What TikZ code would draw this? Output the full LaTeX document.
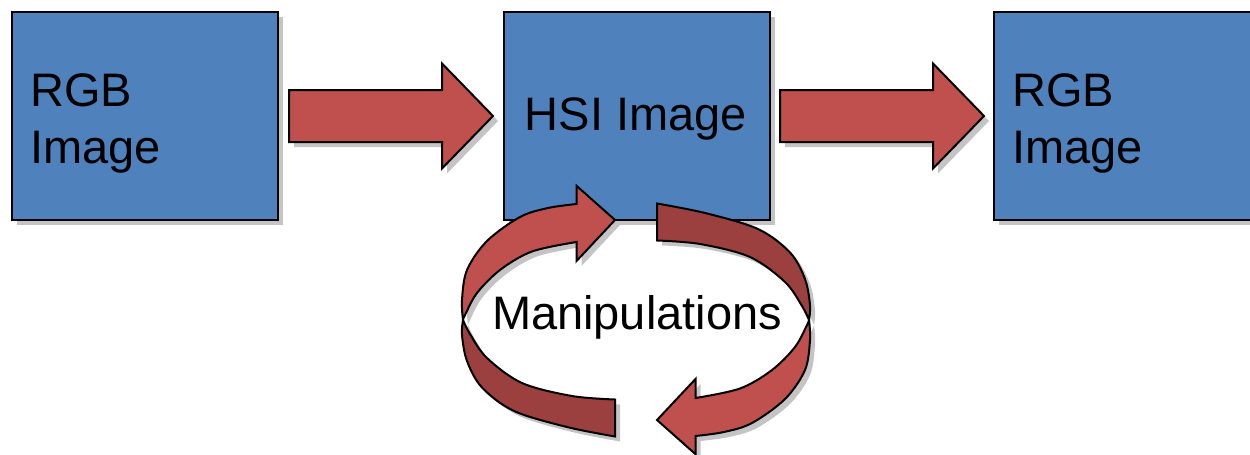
\documentclass[tikz,border=0pt]{standalone}
\usepackage{fontspec}
\setmainfont{Liberation Sans}
\usetikzlibrary{calc,shadows}
\definecolor{boxblue}{HTML}{4F81BD}
\definecolor{arrred}{HTML}{C0504D}
\definecolor{arrdark}{HTML}{9B403E}
\definecolor{shadowgray}{HTML}{C4C4C4}
\tikzset{
  myshadow/.style={drop shadow={shadow xshift=5pt,shadow yshift=-5pt,fill=shadowgray,opacity=1}},
  imgbox/.style={draw=black,line width=2pt,fill=boxblue,minimum width=266pt,minimum height=208pt,
    inner sep=0pt,anchor=north west,myshadow},
  lbl/.style={font=\fontsize{47}{57}\selectfont,inner sep=0pt,align=left},
  redarrow/.style={draw=black,line width=2pt,fill=arrred,line join=miter},
  darkband/.style={draw=black,line width=2pt,fill=arrdark,line join=miter},
  shad/.style={fill=shadowgray}
}
\newcommand\CircLightPath{(463,320) -- plot[smooth,tension=.55] coordinates {(463,320) (462,300) (467,270) (487,241) (520,217) (548,208) (576.5,204)}
  -- (576.5,185.8) -- (615,220) -- (576.5,261)
  -- plot[smooth,tension=.55] coordinates {(576.5,242) (532,251.5) (500,270) (477,293) (465,315) (463,320)} -- cycle}
\newcommand\CircDarkPath{(657,203.5) -- plot[smooth,tension=.55] coordinates {(657,203.5) (705,213) (758,229) (790,252.5) (805,279) (810,305) (809,320)}
  -- plot[smooth,tension=.55] coordinates {(809,320) (802,306) (785,282) (750,257) (700,244) (657,240.5)} -- cycle}
\begin{document}
\begin{tikzpicture}[x=1pt,y=-1pt]
\clip (0,0) rectangle (1250,455);
% boxes
\node[imgbox] (b1) at (11,11) {};
\node[imgbox] (b2) at (503,11) {};
\node[imgbox] (b3) at (993,11) {};
\node[lbl,anchor=base west] (t1) at (30,163) {RGB\\Image};
\node[lbl,anchor=base] (t2) at (636,130) {HSI Image};
\node[lbl,anchor=base west] (t3) at (1012,163) {RGB\\Image};
% straight block arrows
\path (b1.east) ++(10,0) coordinate (s1);
\path (b2.west) ++(-10,0) coordinate (e1);
\path (b2.east) ++(9,0) coordinate (s2);
\path (b3.west) ++(-9,0) coordinate (e2);
\draw[redarrow,myshadow] ($(s1)+(0,-26)$) -- ($(e1)+(-51,-26)$) -- ($(e1)+(-51,-52.5)$) -- (e1)
  -- ($(e1)+(-51,52.5)$) -- ($(e1)+(-51,26)$) -- ($(s1)+(0,26)$) -- cycle;
\draw[redarrow,myshadow] ($(s2)+(0,-26)$) -- ($(e2)+(-51,-26)$) -- ($(e2)+(-51,-52.5)$) -- (e2)
  -- ($(e2)+(-51,52.5)$) -- ($(e2)+(-51,26)$) -- ($(s2)+(0,26)$) -- cycle;
% circular arrows: shadows
\begin{scope}[shift={(5,5)}]
  \fill[shad] \CircLightPath;
  \fill[shad] \CircDarkPath;
  \begin{scope}[rotate around={180:(636,320)}]
    \fill[shad] \CircLightPath;
    \fill[shad] \CircDarkPath;
  \end{scope}
\end{scope}
% circular arrows
\draw[redarrow] \CircLightPath;
\draw[darkband] \CircDarkPath;
\begin{scope}[rotate around={180:(636,320)}]
  \draw[redarrow] \CircLightPath;
  \draw[darkband] \CircDarkPath;
\end{scope}
\node[lbl,anchor=base] (t4) at (637,329.5) {Manipulations};
\end{tikzpicture}
\end{document}
